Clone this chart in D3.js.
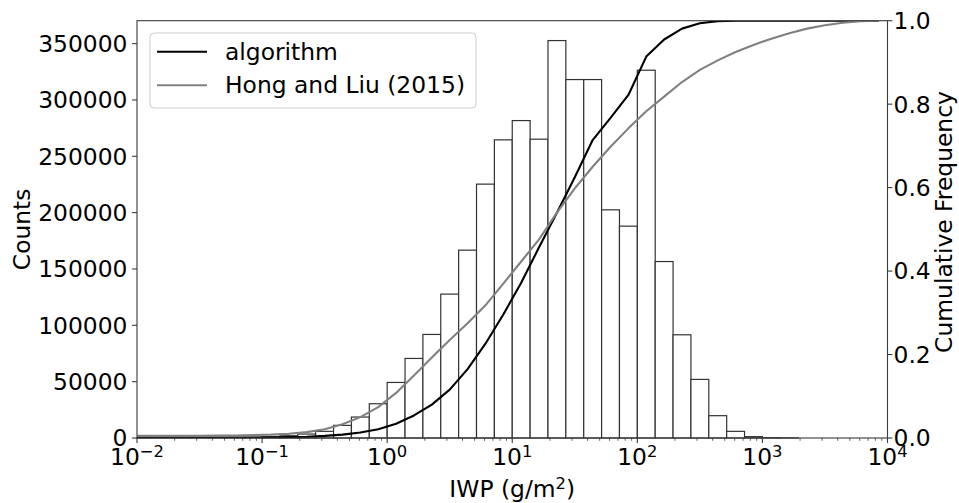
<!DOCTYPE html>
<html>
<head>
<meta charset="utf-8">
<script src="https://cdn.jsdelivr.net/npm/d3@7"></script>
<style>
  body { margin: 0; background: #fff; }
  text { font-family: "DejaVu Sans", sans-serif; fill: #000; }
</style>
</head>
<body>
<div id="chart"></div>
<script>
// histogram bins: 7 per decade in log space, starting at 10^-2
const binsPerDecade = 7;
const firstBinExp = -2;

// counts per bin, 10^-2 ... 10^4
const counts = [
  150, 150, 200, 250, 300, 400, 500,
  900, 2000, 3500, 5900, 11200, 18600, 30400,
  49300, 70600, 91900, 127700, 166700, 225300, 264600,
  281700, 265200, 352700, 318100, 318100, 202500, 188000,
  326400, 156600, 91600, 52000, 19800, 5900, 1200,
  300, 100, 0, 0, 0, 0, 0
];

// cumulative frequency at bin centres (first value sits one bin left of 10^-2)
const algorithmCum = [
  0.001, 0.001, 0.001, 0.001, 0.001, 0.001, 0.001, 0.001,
  0.0015, 0.002, 0.003, 0.005, 0.008, 0.013, 0.021,
  0.034, 0.054, 0.080, 0.116, 0.165, 0.226, 0.296,
  0.372, 0.457, 0.540, 0.625, 0.714, 0.767, 0.822,
  0.914, 0.955, 0.981, 0.994, 0.999, 1.0, 1.0,
  1.0, 1.0, 1.0, 1.0, 1.0, 1.0, 1.0
];
const hongLiuCum = [
  0.005, 0.005, 0.005, 0.005, 0.005, 0.006, 0.006, 0.007,
  0.008, 0.010, 0.014, 0.021, 0.033, 0.050, 0.074,
  0.108, 0.150, 0.193, 0.235, 0.275, 0.318, 0.370,
  0.423, 0.476, 0.540, 0.598, 0.650, 0.698, 0.742,
  0.783, 0.818, 0.853, 0.882, 0.905, 0.925, 0.942,
  0.957, 0.970, 0.981, 0.989, 0.995, 0.999, 1.0
];

const countTicks = [0, 50000, 100000, 150000, 200000, 250000, 300000, 350000];
const freqTicks = [0, 0.2, 0.4, 0.6, 0.8, 1.0];
const decadeTicks = [-2, -1, 0, 1, 2, 3, 4];
const seriesNames = ["algorithm", "Hong and Liu (2015)"];
const seriesColors = ["#000000", "#808080"];

const svgWidth = 959;
const svgHeight = 503;
const margin = {top: 20.7, right: 71.5, bottom: 65, left: 137};
const width = svgWidth - margin.left - margin.right;
const height = svgHeight - margin.top - margin.bottom;
const fontSize = 23.4;
const supSize = fontSize * 0.7;
const supShift = 8.5;

const svg = d3.select("#chart")
  .append("svg")
  .attr("width", svgWidth)
  .attr("height", svgHeight);

const chartGroup = svg.append("g")
  .attr("transform", `translate(${margin.left}, ${margin.top})`);

// scales
const xScale = d3.scaleLog()
  .domain([1e-2, 1e4])
  .range([0, width]);

const yCount = d3.scaleLinear()
  .domain([0, d3.max(counts) * 1.05])
  .range([height, 0]);

const yFreq = d3.scaleLinear()
  .domain([0, 1])
  .range([height, 0]);

svg.append("defs").append("clipPath")
  .attr("id", "plotClip")
  .append("rect")
  .attr("width", width)
  .attr("height", height);

// histogram bars
const binData = counts.map((c, i) => ({
  lo: Math.pow(10, firstBinExp + i / binsPerDecade),
  hi: Math.pow(10, firstBinExp + (i + 1) / binsPerDecade),
  count: c
})).filter(d => d.count > 0);

chartGroup.append("g")
  .selectAll("rect")
  .data(binData)
  .enter()
  .append("rect")
  .attr("x", d => xScale(d.lo))
  .attr("y", d => yCount(d.count))
  .attr("width", d => xScale(d.hi) - xScale(d.lo))
  .attr("height", d => height - yCount(d.count))
  .attr("fill", "#fff")
  .attr("stroke", "#333")
  .attr("stroke-width", 1.2);

// cumulative lines
const centre = i => Math.pow(10, firstBinExp + (i - 1 + 0.5) / binsPerDecade);
const line = d3.line()
  .x((d, i) => xScale(centre(i)))
  .y(d => yFreq(d));

[algorithmCum, hongLiuCum].forEach((series, s) => {
  chartGroup.append("path")
    .datum(series)
    .attr("clip-path", "url(#plotClip)")
    .attr("d", line)
    .attr("fill", "none")
    .attr("stroke", seriesColors[s])
    .attr("stroke-width", 2.1)
    .attr("stroke-linejoin", "round");
});

// frame
chartGroup.append("rect")
  .attr("width", width)
  .attr("height", height)
  .attr("fill", "none")
  .attr("stroke", "#3a3a3a")
  .attr("stroke-width", 1.1);

// x axis: major + minor log ticks
const minorTicks = [];
decadeTicks.slice(0, -1).forEach(e => {
  for (let m = 2; m <= 9; m++) minorTicks.push(m * Math.pow(10, e));
});

const xAxisG = chartGroup.append("g")
  .attr("transform", `translate(0, ${height})`);

xAxisG.selectAll("line.minor")
  .data(minorTicks)
  .enter()
  .append("line")
  .attr("x1", d => xScale(d))
  .attr("x2", d => xScale(d))
  .attr("y1", 0)
  .attr("y2", 2.8)
  .attr("stroke", "#3a3a3a")
  .attr("stroke-width", 0.8);

xAxisG.selectAll("line.major")
  .data(decadeTicks)
  .enter()
  .append("line")
  .attr("x1", d => xScale(Math.pow(10, d)))
  .attr("x2", d => xScale(Math.pow(10, d)))
  .attr("y1", 0)
  .attr("y2", 4.9)
  .attr("stroke", "#3a3a3a")
  .attr("stroke-width", 1.1);

const xLabels = xAxisG.selectAll("text.tick")
  .data(decadeTicks)
  .enter()
  .append("text")
  .attr("x", d => xScale(Math.pow(10, d)))
  .attr("y", 27)
  .attr("text-anchor", "middle")
  .style("font-size", fontSize + "px");

xLabels.append("tspan").text("10");
xLabels.append("tspan")
  .attr("dy", -supShift)
  .style("font-size", supSize + "px")
  .text(d => String(d).replace("-", "\u2212"));

// left axis
const leftG = chartGroup.append("g");
countTicks.forEach(t => {
  leftG.append("line")
    .attr("x1", -4.9).attr("x2", 0)
    .attr("y1", yCount(t)).attr("y2", yCount(t))
    .attr("stroke", "#3a3a3a")
    .attr("stroke-width", 1.1);
  leftG.append("text")
    .attr("x", -9.5)
    .attr("y", yCount(t))
    .attr("dy", "0.36em")
    .attr("text-anchor", "end")
    .style("font-size", fontSize + "px")
    .text(t);
});

// right axis
const rightG = chartGroup.append("g")
  .attr("transform", `translate(${width}, 0)`);
freqTicks.forEach(t => {
  rightG.append("line")
    .attr("x1", 0).attr("x2", 4.9)
    .attr("y1", yFreq(t)).attr("y2", yFreq(t))
    .attr("stroke", "#3a3a3a")
    .attr("stroke-width", 1.1);
  rightG.append("text")
    .attr("x", 6)
    .attr("y", yFreq(t))
    .attr("dy", "0.36em")
    .attr("text-anchor", "start")
    .style("font-size", fontSize + "px")
    .text(t.toFixed(1));
});

// axis titles
const xTitle = svg.append("text")
  .attr("x", margin.left + width / 2)
  .attr("y", 497)
  .attr("text-anchor", "middle")
  .style("font-size", fontSize + "px");
xTitle.append("tspan").text("IWP (g/m");
xTitle.append("tspan")
  .attr("dy", -supShift)
  .style("font-size", supSize + "px")
  .text("2");
xTitle.append("tspan")
  .attr("dy", supShift)
  .text(")");

svg.append("text")
  .attr("transform", `translate(30, ${margin.top + height / 2}) rotate(-90)`)
  .attr("text-anchor", "middle")
  .style("font-size", fontSize + "px")
  .text("Counts");

svg.append("text")
  .attr("transform", `translate(952, 222) rotate(-90)`)
  .attr("text-anchor", "middle")
  .style("font-size", fontSize + "px")
  .text("Cumulative Frequency");

// legend
const legend = svg.append("g")
  .attr("transform", "translate(150, 33)");

legend.append("rect")
  .attr("width", 326)
  .attr("height", 75)
  .attr("rx", 4)
  .attr("fill", "#fff")
  .attr("fill-opacity", 0.8)
  .attr("stroke", "#cccccc")
  .attr("stroke-width", 1);

seriesNames.forEach((name, i) => {
  const yRow = 18.7 + i * 33.6;
  legend.append("line")
    .attr("x1", 7).attr("x2", 57)
    .attr("y1", yRow).attr("y2", yRow)
    .attr("stroke", seriesColors[i])
    .attr("stroke-width", 2.1);
  legend.append("text")
    .attr("x", 75)
    .attr("y", yRow + 7.8)
    .style("font-size", fontSize + "px")
    .text(name);
});
</script>
</body>
</html>
